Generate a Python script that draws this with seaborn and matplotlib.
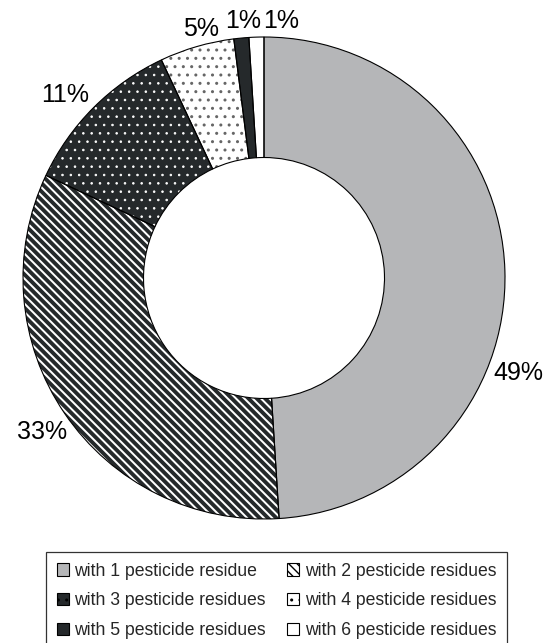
import matplotlib
matplotlib.use("Agg")
import matplotlib.pyplot as plt
from matplotlib.patches import Patch
import seaborn as sns

# dados
categorias = ["with 1 pesticide residue", "with 2 pesticide residues",
              "with 3 pesticide residues", "with 4 pesticide residues",
              "with 5 pesticide residues", "with 6 pesticide residues"]
percentuais = [49, 33, 11, 5, 1, 1]

# estilo de cada fatia
cores = ["#b5b6b8", "#ffffff", "#25292b", "#ffffff", "#25292b", "#ffffff"]
hachuras = [None, "\\\\\\\\", "..", "..", None, None]
cor_hachura = ["#b5b6b8", "#25292b", "#ffffff", "#666666", "#25292b", "#ffffff"]
larg_hachura = [1.0, 2.8, 0.6, 1.0, 1.0, 1.0]

# posicao dos rotulos (unidades do raio)
pos_rotulos = [(1.054, -0.394), (-0.921, -0.639), (-0.826, 0.760),
               (-0.261, 1.033), (-0.087, 1.066), (0.071, 1.066)]

sns.set_theme(style="white")
plt.rcParams['font.family'] = ['Liberation Sans', 'DejaVu Sans']

fig = plt.figure(figsize=(5.5, 6.43), dpi=100)
ax = fig.add_axes([23 / 550, (643 - 519) / 643, 482 / 550, 482 / 643])

# camada 1: preenchimento + hachura
fatias, _, textos = ax.pie(percentuais, colors=cores, startangle=90, counterclock=False,
                           radius=1, autopct='%1.0f%%',
                           wedgeprops=dict(width=0.5, linewidth=0),
                           textprops=dict(fontsize=18, color="black"))
for w, h, c, lw in zip(fatias, hachuras, cor_hachura, larg_hachura):
    w.set_edgecolor(c)
    w.set_linewidth(0)
    if h:
        w.set_hatch(h)
        if hasattr(w, "set_hatch_linewidth"):
            w.set_hatch_linewidth(lw)

# camada 2: contornos pretos
ax.pie(percentuais, startangle=90, counterclock=False, radius=1,
       wedgeprops=dict(width=0.5, fill=False, edgecolor="black", linewidth=0.8))

for t, (x, y) in zip(textos, pos_rotulos):
    t.set_position((x, y))
    t.set_ha("center")
    t.set_va("center")

ax.set_xlim(-1, 1)
ax.set_ylim(-1, 1)
ax.set_aspect("auto")
ax.axis("off")

# legenda (preenche por coluna)
alcas = [Patch(facecolor=c, hatch=h, edgecolor="black", linewidth=0.8)
         for c, h in zip(cores, hachuras)]
ordem = [0, 2, 4, 1, 3, 5]
leg = fig.legend([alcas[i] for i in ordem], [categorias[i] for i in ordem],
                 ncol=2, loc="upper left", bbox_to_anchor=(46 / 550, 1 - 552 / 643),
                 fontsize=12.7, frameon=True, fancybox=False, borderpad=0.6,
                 handlelength=0.7, handleheight=0.7, handletextpad=0.3,
                 columnspacing=1.2, labelspacing=0.72, borderaxespad=0)
leg.get_frame().set_edgecolor("black")
leg.get_frame().set_linewidth(0.9)

fig.savefig("out.png", dpi=100)
